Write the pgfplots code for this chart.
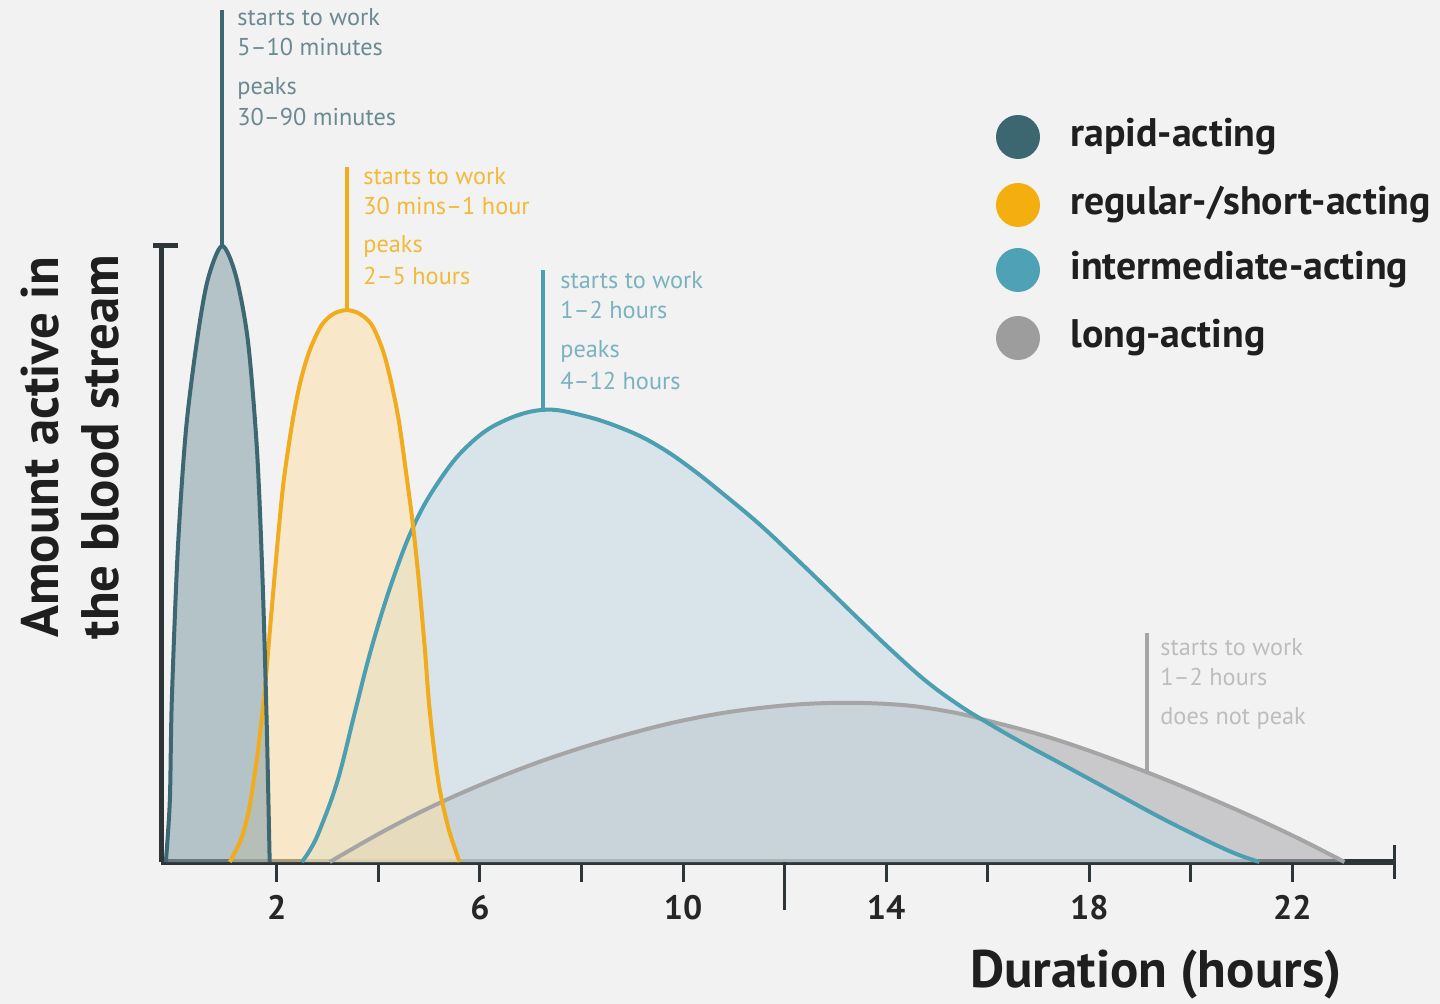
\documentclass[border=0pt]{standalone}
\usepackage{pgfplots}
\usepackage{pgfplotstable}
\pgfplotsset{compat=1.18}
\usepackage{fontspec}
\setmainfont{PT Sans}

\definecolor{bgcol}{HTML}{F2F2F2}
\definecolor{axiscol}{HTML}{2D3538}
\definecolor{rapidline}{HTML}{3D6872}
\definecolor{rapidtext}{HTML}{6A8A92}
\definecolor{rapidfill}{HTML}{89A5AC}
\definecolor{regline}{HTML}{F0AC1C}
\definecolor{regtext}{HTML}{F3B938}
\definecolor{regfill}{HTML}{FCE1AC}
\definecolor{intline}{HTML}{4C9FB0}
\definecolor{inttext}{HTML}{7AB2BF}
\definecolor{intfill}{HTML}{C8DCE3}
\definecolor{longline}{HTML}{A5A5A5}
\definecolor{longtext}{HTML}{BDBDBD}
\definecolor{longfill}{HTML}{AEAFB3}
\definecolor{dotrapid}{HTML}{3C6670}
\definecolor{dotreg}{HTML}{F4AE0F}
\definecolor{dotint}{HTML}{4FA2B5}
\definecolor{dotlong}{HTML}{9D9D9D}

% hours vs. relative amount
\pgfplotstableread{
h v
-0.185 0
-0.106 0.10
-0.067 0.263
0.05 0.506
0.21 0.70
0.43 0.847
0.64 0.945
0.92 1.0
1.19 0.953
1.43 0.847
1.61 0.669
1.72 0.458
1.80 0.23
1.86 0
}\tabrapid

\pgfplotstableread{
h v
1.075 0
1.291 0.036
1.449 0.084
1.606 0.166
1.744 0.263
1.882 0.393
2.02 0.523
2.138 0.62
2.315 0.718
2.472 0.782
2.65 0.831
2.886 0.872
3.12 0.89
3.376 0.896
3.63 0.89
3.87 0.872
4.087 0.831
4.244 0.782
4.40 0.718
4.54 0.636
4.677 0.55
4.795 0.458
4.913 0.349
4.992 0.263
5.09 0.187
5.21 0.117
5.39 0.052
5.6 0
}\tabregular

\pgfplotstableread{
h v
2.492 0
2.65 0.019
2.846 0.052
3.20 0.133
3.535 0.242
3.87 0.349
4.283 0.458
4.72 0.55
5.209 0.62
5.74 0.674
6.39 0.713
7.236 0.734
8.063 0.724
8.89 0.701
9.539 0.674
10.19 0.637
10.858 0.593
11.508 0.548
12.157 0.498
12.827 0.445
13.476 0.393
14.126 0.342
14.795 0.293
15.445 0.254
15.976 0.227
16.626 0.196
17.413 0.161
18.063 0.132
18.732 0.102
19.382 0.073
20.031 0.046
20.563 0.025
20.957 0.011
21.35 0
}\tabintermediate

\pgfplotstableread{
h v
3.043 0
4.126 0.051
5.209 0.096
6.39 0.138
7.571 0.174
8.89 0.207
10.19 0.233
11.508 0.25
12.827 0.258
14.126 0.256
15.11 0.246
15.976 0.230
17.413 0.197
19.126 0.146
20.701 0.092
22.0 0.043
23.024 0
}\tablong

\begin{document}
\begin{tikzpicture}
\fill[bgcol] (0,0) rectangle (720bp,502bp);
\useasboundingbox (0,0) rectangle (720bp,502bp);
\begin{axis}[
  at={(80.5bp,71bp)}, anchor=south west,
  scale only axis, width=616.5bp, height=308bp,
  xmin=-0.28, xmax=24, ymin=0, ymax=1,
  axis x line=bottom, axis y line=left,
  axis line style={-, line width=2.5bp, color=axiscol},
  xtick={2,4,...,22}, xticklabels={2,,6,,10,,14,,18,,22},
  extra x ticks={24}, extra x tick labels={},
  extra x tick style={tick align=center, major tick length=17bp},
  ytick=\empty,
  tick align=outside, major tick length=10bp,
  tick style={line width=1.5bp, color=axiscol},
  xticklabel style={font=\fontsize{17}{17}\selectfont\bfseries, text=black!85, yshift=-3bp},
  /pgf/number format/assume math mode=true,
  clip=false,
]
% fills
\addplot[draw=none, fill=longfill, fill opacity=0.6, smooth, tension=0.65] table {\tablong} \closedcycle;
\addplot[draw=none, fill=intfill, fill opacity=0.6, smooth, tension=0.65] table {\tabintermediate} \closedcycle;
\addplot[draw=none, fill=regfill, fill opacity=0.6, smooth] table {\tabregular} \closedcycle;
\addplot[draw=none, fill=rapidfill, fill opacity=0.6, smooth] table {\tabrapid} \closedcycle;
% outlines
\addplot[longline, line width=2bp, smooth, tension=0.65] table {\tablong};
\addplot[intline, line width=2bp, smooth, tension=0.65] table {\tabintermediate};
\addplot[regline, line width=2bp, smooth] table {\tabregular};
\addplot[rapidline, line width=2bp, smooth] table {\tabrapid};
% annotation stems
\draw[rapidline, line width=2bp] (axis cs:0.92,1.0) -- (axis cs:0.92,1.383);
\draw[regline, line width=2bp] (axis cs:3.376,0.896) -- (axis cs:3.376,1.128);
\draw[intline, line width=2bp] (axis cs:7.236,0.734) -- (axis cs:7.236,0.961);
\draw[longline, line width=2bp] (axis cs:19.13,0.146) -- (axis cs:19.13,0.372);
% axis cap and long tick at 12
\draw[axiscol, line width=2.5bp] (axis cs:-0.28,1) ++(-4bp,0bp) -- ++(12.5bp,0bp);
\draw[axiscol, line width=1.5bp] (axis cs:12,0) -- ++(0bp,-24bp);
\end{axis}

% annotation text
\begin{scope}[every node/.style={anchor=west, inner sep=0pt, font=\fontsize{12.2}{12.2}\selectfont}]
\node[text=rapidtext] at (118.5bp,493.5bp) {starts to work};
\node[text=rapidtext] at (118.5bp,478.5bp) {5–10 minutes};
\node[text=rapidtext] at (118.5bp,458bp) {peaks};
\node[text=rapidtext] at (118.5bp,443.5bp) {30–90 minutes};
\node[text=regtext] at (181.5bp,414bp) {starts to work};
\node[text=regtext] at (181.5bp,399bp) {30 mins–1 hour};
\node[text=regtext] at (181.5bp,379bp) {peaks};
\node[text=regtext] at (181.5bp,364bp) {2–5 hours};
\node[text=inttext] at (280bp,362bp) {starts to work};
\node[text=inttext] at (280bp,347bp) {1–2 hours};
\node[text=inttext] at (280bp,326.5bp) {peaks};
\node[text=inttext] at (280bp,311.5bp) {4–12 hours};
\node[text=longtext] at (580bp,178.5bp) {starts to work};
\node[text=longtext] at (580bp,163.5bp) {1–2 hours};
\node[text=longtext] at (580bp,143bp) {does not peak};
\end{scope}

% legend
\fill[dotrapid] (509bp,433.5bp) circle (11bp);
\fill[dotreg] (509bp,399.5bp) circle (11bp);
\fill[dotint] (509bp,367bp) circle (11bp);
\fill[dotlong] (509bp,333bp) circle (11bp);
\begin{scope}[every node/.style={anchor=west, inner sep=0pt, text=black!88, font=\fontsize{20}{20}\selectfont\bfseries}]
\node at (535bp,433.5bp) {rapid-acting};
\node at (535bp,399.5bp) {regular-/short-acting};
\node at (535bp,367bp) {intermediate-acting};
\node at (535bp,333bp) {long-acting};
\end{scope}

% axis titles
\begin{scope}[every node/.style={inner sep=0pt, text=black!88, font=\fontsize{26.5}{26.5}\selectfont\bfseries}]
\node[rotate=90] at (20bp,278.5bp) {Amount active in};
\node[rotate=90] at (50bp,278.5bp) {the blood stream};
\node[anchor=east] at (671bp,14.5bp) {Duration (hours)};
\end{scope}
\end{tikzpicture}
\end{document}
